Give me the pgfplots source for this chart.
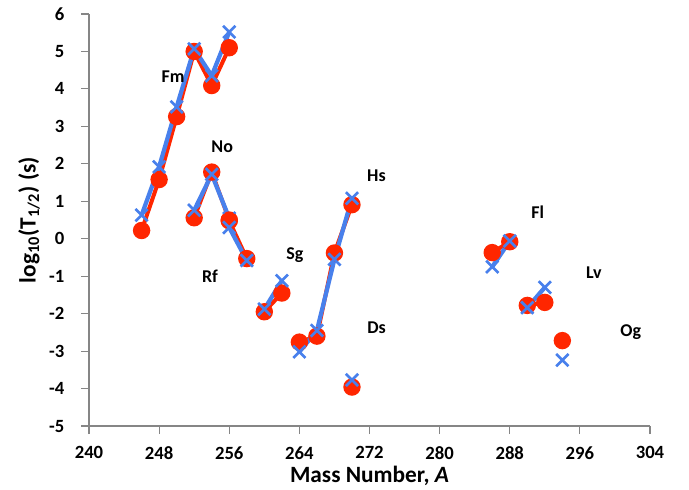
\documentclass[border=0pt]{standalone}
\usepackage{fontspec}
\setmainfont{Carlito}
\usepackage{pgfplots}
\pgfplotsset{compat=1.18}
\definecolor{myred}{RGB}{255,38,0}
\definecolor{myblue}{RGB}{72,128,236}
\definecolor{axgray}{RGB}{134,134,134}
\begin{document}
\begin{tikzpicture}
\begin{axis}[
    scale only axis,
    width=420.75pt, height=309pt,
    xmin=240, xmax=304, ymin=-5, ymax=6,
    xtick={240,248,...,304},
    ytick={-5,-4,...,6},
    axis lines=left,
    axis line style={-, axgray, line width=0.8pt},
    tick style={axgray, line width=0.8pt},
    tick align=outside,
    major tick length=6pt,
    /pgf/number format/assume math mode=true,
    ticklabel style={font=\bfseries\fontsize{14}{14}\selectfont},
    yticklabel style={xshift=-9pt},
    xticklabel style={yshift=-6pt},
    xlabel={\bfseries\fontsize{17.5}{17.5}\selectfont Mass Number, \textit{A}},
    ylabel={\bfseries\fontsize{17.5}{17.5}\selectfont log\textsubscript{10}(T\textsubscript{1/2}) (s)},
    xlabel style={yshift=2pt},
    ylabel style={yshift=0pt},
    clip=false,
    redser/.style={color=myred, line width=3pt, mark=*, mark size=5pt},
    blueser/.style={color=myblue, line width=3.2pt, mark=x, mark size=6.5pt, mark options={line width=2pt}},
]
% Fm
\addplot[redser] coordinates {(246,0.22) (248,1.58) (250,3.26) (252,5.0) (254,4.09) (256,5.1)};
\addplot[blueser] coordinates {(246,0.63) (248,1.92) (250,3.52) (252,5.07) (254,4.35) (256,5.52)};
% No
\addplot[redser] coordinates {(252,0.56) (254,1.78) (256,0.5)};
\addplot[blueser] coordinates {(252,0.76) (254,1.72) (256,0.55)};
% Rf
\addplot[redser] coordinates {(256,0.48) (258,-0.53)};
\addplot[blueser] coordinates {(256,0.3) (258,-0.58)};
% Sg
\addplot[redser] coordinates {(260,-1.95) (262,-1.45)};
\addplot[blueser] coordinates {(260,-1.88) (262,-1.12)};
% Hs
\addplot[redser] coordinates {(264,-2.76) (266,-2.6) (268,-0.38) (270,0.91)};
\addplot[blueser] coordinates {(264,-3.02) (266,-2.45) (268,-0.55) (270,1.08)};
% Ds
\addplot[redser] coordinates {(270,-3.96)};
\addplot[blueser] coordinates {(270,-3.77)};
% Fl
\addplot[redser] coordinates {(286,-0.37) (288,-0.08)};
\addplot[blueser] coordinates {(286,-0.75) (288,-0.06)};
% Lv
\addplot[redser] coordinates {(290,-1.78) (292,-1.7)};
\addplot[blueser] coordinates {(290,-1.84) (292,-1.3)};
% Og
\addplot[redser] coordinates {(294,-2.72)};
\addplot[blueser] coordinates {(294,-3.24)};

\begin{scope}[every node/.style={font=\bfseries\fontsize{13.5}{13.5}\selectfont}]
\node at (axis cs:249.6,4.33) {Fm};
\node at (axis cs:255.2,2.46) {No};
\node at (axis cs:253.8,-1.0) {Rf};
\node at (axis cs:263.5,-0.43) {Sg};
\node at (axis cs:272.8,1.68) {Hs};
\node at (axis cs:272.8,-2.38) {Ds};
\node at (axis cs:291.2,0.72) {Fl};
\node at (axis cs:297.6,-0.91) {Lv};
\node at (axis cs:301.8,-2.49) {Og};
\end{scope}
\end{axis}
\pgfresetboundingbox
\useasboundingbox ([shift={(-66.75pt,-47.25pt)}]current axis.south west) rectangle ([shift={(29.25pt,10.5pt)}]current axis.north east);
\end{tikzpicture}
\end{document}
